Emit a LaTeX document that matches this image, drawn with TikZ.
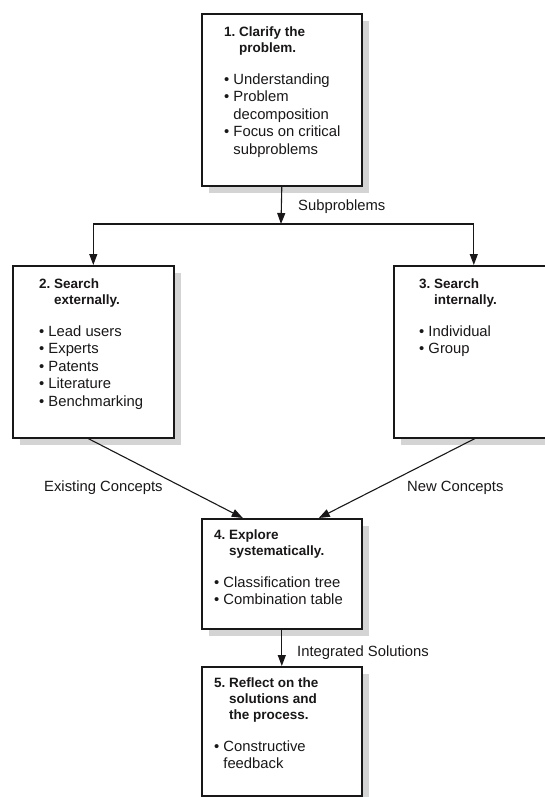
\documentclass[tikz,border=0pt]{standalone}
\usepackage{fontspec}
\setmainfont{Liberation Sans}
\usetikzlibrary{arrows.meta,shadows}
\newcommand\ttlfont{\fontsize{13.5}{16}\selectfont\bfseries}
\newcommand\bltfont{\fontsize{14.8}{17.5}\selectfont}
\newcommand\tind{\newline\hspace*{15pt}}
\newcommand\bind{\newline\hspace*{9.2pt}}
\newcommand\boxtitle[2]{{\ttlfont\rule{0pt}{10pt}#1~#2\par}\vspace{14.5pt}}
\newcommand\bitem[1]{{\bltfont\textbullet\ #1\par}}
\newcommand\boxtext[1]{\parbox[t]{150pt}{\raggedright #1}}
\definecolor{ink}{HTML}{1A1718}
\begin{document}
\begin{tikzpicture}[x=1pt,y=-1pt,
  stepbox/.style={draw=ink, line width=1.6pt, fill=white,
    drop shadow={shadow xshift=7pt, shadow yshift=-7pt, fill=black!17, opacity=1},
    minimum width=160pt, inner sep=0pt, anchor=north west},
  boxtxt/.style={inner sep=0pt, anchor=north west, text=ink},
  lbl/.style={inner sep=0pt, anchor=base west, text=ink, font=\bltfont},
  arr/.style={draw=ink, line width=1.1pt, -{Triangle[length=11pt,width=8pt]}}]
\clip (0,0) rectangle (545,797);

% boxes
\node[stepbox, minimum height=172pt] (b1) at (201,13) {};
\node[stepbox, minimum height=172pt, minimum width=161pt] (b2) at (12,265) {};
\node[stepbox, minimum height=172pt] (b3) at (393,265) {};
\node[stepbox, minimum height=110pt] (b4) at (201,518) {};
\node[stepbox, minimum height=129pt] (b5) at (201,666) {};

% texts
\node[boxtxt] (t1) at (224,26) {\boxtext{\boxtitle{1.}{Clarify the\tind problem.}%
  \bitem{Understanding}\bitem{Problem\bind decomposition}\bitem{Focus on critical\bind subproblems}}};
\node[boxtxt] (t2) at (39,278) {\boxtext{\boxtitle{2.}{Search\tind externally.}%
  \bitem{Lead users}\bitem{Experts}\bitem{Patents}\bitem{Literature}\bitem{Benchmarking}}};
\node[boxtxt] (t3) at (419,278) {\boxtext{\boxtitle{3.}{Search\tind internally.}%
  \bitem{Individual}\bitem{Group}}};
\node[boxtxt] (t4) at (214,529) {\boxtext{\boxtitle{4.}{Explore\tind systematically.}%
  \bitem{Classification tree}\bitem{Combination table}}};
\node[boxtxt] (t5) at (214,677) {\boxtext{\boxtitle{5.}{Reflect on the\tind solutions and\tind the process.}%
  \bitem{Constructive\bind feedback}}};

% connectors
\coordinate (j) at (281,224);
\draw[arr] (b1.south) -- (j);
\draw[arr] (j) -| (b2.north);
\draw[arr] (j) -| (b3.north);
\draw[arr] ([xshift=-5pt]b2.south) -- ([xshift=-39pt]b4.north);
\draw[arr] ([xshift=1pt]b3.south) -- ([xshift=37pt]b4.north);
\draw[arr] (b4.south) -- (b5.north);

% labels
\node[lbl] (l1) at (298,210) {Subproblems};
\node[lbl] (l2) at (44,491) {Existing Concepts};
\node[lbl] (l3) at (407,491) {New Concepts};
\node[lbl] (l4) at (297,656) {Integrated Solutions};
\end{tikzpicture}
\end{document}
